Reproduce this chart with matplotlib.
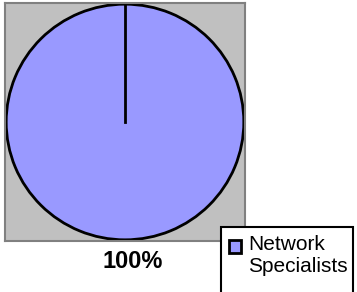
import numpy as np
import matplotlib
matplotlib.use('Agg')
from matplotlib import pyplot as plt
from matplotlib.patches import Rectangle
from matplotlib.legend_handler import HandlerPatch

# datos del grafico
categorias = ['Network\nSpecialists']
valores = [100]
colores = ['#9999FF']

plt.rcParams['font.family'] = ['Liberation Sans', 'DejaVu Sans']

W, H = 357, 292
fig = plt.figure(figsize=(W / 100, H / 100), dpi=100)
fig.patch.set_facecolor('white')

# area gris del grafico (en pixeles -> fracciones)
ax = fig.add_axes([5 / W, (H - 241) / H, 240 / W, 238 / H])
inicio = 90
wedges, _ = ax.pie(valores, colors=colores, startangle=inicio, counterclock=False,
                   wedgeprops=dict(edgecolor='black', linewidth=2))
ax.set_aspect('auto')
ax.set_xlim(-1.01, 1.01)
ax.set_ylim(-1.01, 1.01)
ax.set_frame_on(True)
ax.set_facecolor('#C0C0C0')
for s in ax.spines.values():
    s.set_edgecolor('#808080')
    s.set_linewidth(1.5)

# linea del borde de la rebanada (un solo valor = 100%)
ang = np.deg2rad(inicio)
ax.plot([0, np.cos(ang)], [0, np.sin(ang)], color='black', lw=2)

# etiqueta de porcentaje
total = sum(valores)
for v in valores:
    fig.text(133 / W, 1 - 261.5 / H, '%d%%' % round(100 * v / total),
             ha='center', va='center', fontsize=17, fontweight='bold')

# cuadro de la leyenda (se sale por abajo como en el original)
fig.add_artist(Rectangle((221 / W, -0.1), (353 - 221) / W, 0.1 + (H - 227) / H,
                         transform=fig.transFigure, facecolor='white',
                         edgecolor='black', linewidth=1.5, zorder=2))

FS = 15


def cuadrito(legend, orig_handle, xdescent, ydescent, width, height, fontsize):
    # el cuadro va junto a la primera linea del texto
    return Rectangle((-xdescent, -ydescent + 0.45 * fontsize), width, height)


leg = fig.legend(wedges, categorias, loc='upper left',
                 bbox_to_anchor=(221 / W, (H - 227) / H),
                 frameon=False, fontsize=FS,
                 handlelength=0.58, handleheight=0.58, handletextpad=0.34,
                 borderpad=0.38, borderaxespad=0,
                 handler_map={wedges[0]: HandlerPatch(patch_func=cuadrito)})
for h in leg.legend_handles:
    h.set_linewidth(2)
    h.set_edgecolor('black')

plt.savefig('out.png', dpi=100)
